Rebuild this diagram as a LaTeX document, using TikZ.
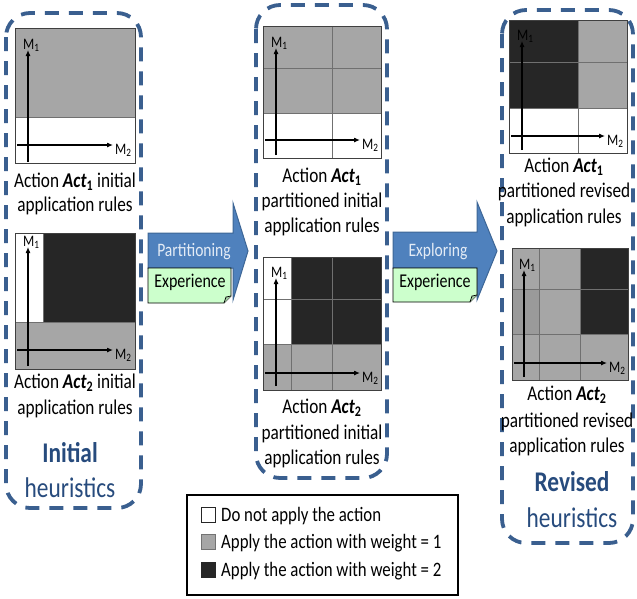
\documentclass[tikz,border=0pt]{standalone}
\usepackage{fontspec}
\setmainfont{Carlito}[FakeStretch=0.82]
\usetikzlibrary{arrows.meta}
\definecolor{cgray}{HTML}{A6A6A6}
\definecolor{cgrayd}{HTML}{9A9A9A}
\definecolor{cdark}{HTML}{262626}
\definecolor{cblue}{HTML}{3A5F8F}
\definecolor{ctext}{HTML}{274B7D}
\definecolor{carrow}{HTML}{4F81BD}
\definecolor{carrowb}{HTML}{3D6696}
\definecolor{carrowt}{HTML}{E4ECF6}
\definecolor{cnote}{HTML}{CCFFCC}
\definecolor{cnoted}{HTML}{A3CCA3}
\definecolor{cgrid}{HTML}{707070}
\newcommand\myaxes[7]{%
  \coordinate (#7b) at (#1,#2); \coordinate (#7t) at (#1,#3);
  \coordinate (#7l) at (#5,#4); \coordinate (#7r) at (#6,#4);
  \draw[axisline] (#7b) -- (#7t);
  \draw[axisline] (#7l) -- (#7r);
  \node[mlab, anchor=base west] (#7m1) at ([xshift=-5pt,yshift=1pt]#7t) {M\textsubscript{1}};
  \node[mlab, anchor=base west] (#7m2) at ([xshift=2pt,yshift=-9pt]#7r) {M\textsubscript{2}};
}
\begin{document}
\begin{tikzpicture}[x=1pt,y=-1pt,
  container/.style={draw=cblue, line width=3.8pt, dash pattern=on 14pt off 10pt, rounded corners=24pt},
  frame/.style={draw=black!75, line width=0.9pt},
  gridl/.style={draw=cgrid, line width=0.7pt},
  axisline/.style={-{Latex[length=6pt,width=5pt]}, line width=1.1pt},
  mlab/.style={font=\fontsize{16}{18}\selectfont, inner sep=0pt},
  lbl/.style={font=\fontsize{21}{25}\selectfont, inner sep=0pt, anchor=base},
  big/.style={font=\fontsize{28.5}{32}\selectfont, inner sep=0pt, anchor=base, text=ctext},
  bigarrow/.style={fill=carrow, draw=carrowb, line width=1pt},
  arrowtext/.style={font=\fontsize{19}{22}\selectfont, inner sep=0pt, anchor=base, text=carrowt},
  note/.style={fill=cnote, draw=black, line width=0.9pt},
  notetext/.style={font=\fontsize{19.5}{22}\selectfont, inner sep=0pt, anchor=base},
  legtext/.style={font=\fontsize{20.5}{24}\selectfont, inner sep=0pt, anchor=base west},
  legsq/.style={line width=1pt}
]
\fill[white] (0,0) rectangle (637,598);
\path[use as bounding box] (0,0) rectangle (637,598);

% containers
\draw[container] (6,13) rectangle (141,508);
\draw[container] (256,5) rectangle (387,478);
\draw[container] (502,10) rectangle (633,543);

% ---------- Left panel 1 ----------
\fill[cgray] (15,28) rectangle (135,117);
\draw[gridl] (15,117) -- (135,117);
\draw[frame] (15,28) rectangle (135,163);
\myaxes{28}{162}{50}{145}{17}{113}{la}
\node[lbl] (la1) at (75,187) {Action \textbf{\textit{Act}\textsubscript{1}} initial};
\node[lbl] (la2) at (75,211) {application rules};

% ---------- Left panel 2 ----------
\fill[cdark] (43,233) rectangle (135,322);
\fill[cgray] (15,322) rectangle (135,369);
\draw[gridl] (15,322) -- (135,322);
\draw[gridl] (43,233) -- (43,322);
\draw[frame] (15,233) rectangle (135,369);
\myaxes{28}{366}{247}{350}{17}{113}{lb}
\node[lbl] (lb1) at (75,388) {Action \textbf{\textit{Act}\textsubscript{2}} initial};
\node[lbl] (lb2) at (75,414) {application rules};

\node[big, font=\fontsize{28.5}{32}\selectfont\bfseries] (ini) at (70,462) {Initial};
\node[big] (inh) at (70,497) {heuristics};

% ---------- Middle panel 1 ----------
\fill[cgray] (263,26) rectangle (381,113);
\draw[gridl] (332,26) -- (332,158);
\draw[gridl] (263,68) -- (381,68);
\draw[gridl] (263,113) -- (381,113);
\draw[frame] (263,26) rectangle (381,158);
\myaxes{276}{155}{48}{140}{265}{360}{ma}
\node[lbl] (ma1) at (322,182) {Action \textbf{\textit{Act}\textsubscript{1}}};
\node[lbl] (ma2) at (322,207) {partitioned initial};
\node[lbl] (ma3) at (322,232) {application rules};

% ---------- Middle panel 2 ----------
\fill[cdark] (291,257) rectangle (381,344);
\fill[cgray] (263,344) rectangle (381,390);
\draw[gridl] (291,257) -- (291,390);
\draw[gridl] (332,257) -- (332,390);
\draw[gridl] (263,299) -- (381,299);
\draw[gridl] (263,344) -- (381,344);
\draw[frame] (263,257) rectangle (381,390);
\myaxes{276}{386}{278}{373}{265}{360}{mb}
\node[lbl] (mb1) at (322,413) {Action \textbf{\textit{Act}\textsubscript{2}}};
\node[lbl] (mb2) at (322,439) {partitioned initial};
\node[lbl] (mb3) at (322,464) {application rules};

% ---------- Right panel 1 ----------
\fill[cdark] (509,20) rectangle (578,108);
\fill[cgray] (578,20) rectangle (627,108);
\draw[gridl] (578,20) -- (578,153);
\draw[gridl] (509,62) -- (627,62);
\draw[gridl] (509,108) -- (627,108);
\draw[frame] (509,20) rectangle (627,153);
\myaxes{522}{150}{41}{136}{511}{605}{ra}
\node[lbl] (ra1) at (564,172) {Action \textbf{\textit{Act}\textsubscript{1}}};
\node[lbl] (ra2) at (564,197) {partitioned revised};
\node[lbl] (ra3) at (564,223) {application rules};

% ---------- Right panel 2 ----------
\fill[cgray] (512,248) rectangle (628,380);
\fill[cgrayd] (512,289) rectangle (539,334);
\fill[cdark] (580,248) rectangle (628,334);
\draw[gridl] (539,248) -- (539,380);
\draw[gridl] (580,248) -- (580,380);
\draw[gridl] (512,289) -- (628,289);
\draw[gridl] (512,334) -- (628,334);
\draw[frame] (512,248) rectangle (628,380);
\myaxes{524}{377}{270}{363}{514}{607}{rb}
\node[lbl] (rb1) at (567,400) {Action \textbf{\textit{Act}\textsubscript{2}}};
\node[lbl] (rb2) at (567,427) {partitioned revised};
\node[lbl] (rb3) at (567,452) {application rules};

\node[big, font=\fontsize{28.5}{32}\selectfont\bfseries] (rev) at (572,491) {Revised};
\node[big] (revh) at (572,527) {heuristics};

% ---------- Arrows ----------
\draw[bigarrow] (148,233) -- (233,233) -- (233,203) -- (248,251) -- (233,300) -- (233,268) -- (148,268) -- cycle;
\node[arrowtext] (part) at (194,256) {Partitioning};
\draw[note] (148,268) -- (231,268) -- (231,296) -- (224,303) -- (148,303) -- cycle;
\filldraw[fill=cnoted, draw=black, line width=0.7pt] (224,303) -- (226,297) -- (231,296);
\node[notetext] (exp1) at (190,287) {Experience};

\draw[bigarrow] (393,232) -- (477,232) -- (477,202) -- (497,251) -- (477,300) -- (477,268) -- (393,268) -- cycle;
\node[arrowtext] (expl) at (438,256) {Exploring};
\draw[note] (393,268) -- (477,268) -- (477,295) -- (470,302) -- (393,302) -- cycle;
\filldraw[fill=cnoted, draw=black, line width=0.7pt] (470,302) -- (472,296) -- (477,295);
\node[notetext] (exp2) at (435,287) {Experience};

% ---------- Legend ----------
\draw[line width=1.6pt] (187,495) rectangle (458,595);
\draw[legsq, fill=white, draw=black!85] (201,507) rectangle (215,522);
\draw[legsq, fill=cgray, draw=black!55] (201,534) rectangle (215,549);
\draw[legsq, fill=cdark, draw=cdark] (201,562) rectangle (215,577);
\node[legtext] (lg1) at (221,521) {Do not apply the action};
\node[legtext] (lg2) at (221,548) {Apply the action with weight = 1};
\node[legtext] (lg3) at (221,576) {Apply the action with weight = 2};
\end{tikzpicture}
\end{document}
